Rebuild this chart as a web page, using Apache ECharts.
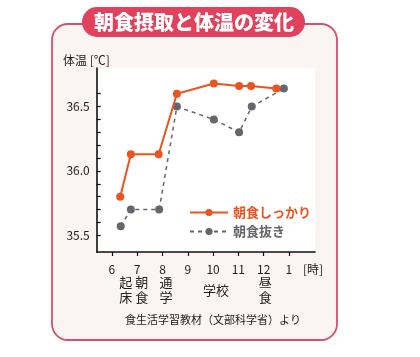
<!DOCTYPE html>
<html>
<head>
<meta charset="utf-8">
<script src="https://cdn.jsdelivr.net/npm/echarts@6/dist/echarts.min.js"></script>
<style>
html,body{margin:0;padding:0;background:#fff;}
#chart{width:420px;height:357px;}
</style>
</head>
<body>
<div id="chart"></div>
<script>
// ---- data ----
var titleText = '朝食摂取と体温の変化';
var yAxisName = '体温 [℃]';
var sourceText = '食生活学習教材（文部科学省）より';
var seriesNames = ['朝食しっかり', '朝食抜き'];
var breakfastX = [6.33, 6.75, 7.85, 8.57, 10.03, 11.03, 11.5, 12.5];
var breakfastY = [35.80, 36.13, 36.13, 36.60, 36.68, 36.66, 36.66, 36.64];
var skipX = [6.35, 6.75, 7.87, 8.57, 10.03, 11.03, 11.53, 12.8];
var skipY = [35.57, 35.70, 35.70, 36.50, 36.40, 36.30, 36.50, 36.64];
var hourTicks = [6, 7, 8, 9, 10, 11, 12, 13];
var hourUnitPos = 13.95;
var hourUnitLabel = '[時]';
var eventPos = [6.55, 7.18, 8.14, 10.12, 12.06];
var eventLabels = ['起\n床', '朝\n食', '通\n学', '学校', '昼\n食'];
var yLabelValues = [35.5, 36.0, 36.5];
var yTickValues = [35.5, 35.6, 35.7, 35.8, 35.9, 36.0, 36.1, 36.2, 36.3, 36.4, 36.5, 36.6];

var FONT = '"Noto Sans CJK JP", "Noto Sans", sans-serif';
var ORANGE = '#ea5420';
var GRAY = '#66666c';

function pairs(xs, ys){ return xs.map(function(x,i){ return [x, ys[i]]; }); }

var chart = echarts.init(document.getElementById('chart'));
var option = {
  backgroundColor: '#ffffff',
  animation: false,
  textStyle: { fontFamily: FONT },
  graphic: [
    { type: 'rect', z: -10, shape: { x: 52, y: 24, width: 285, height: 316, r: 16 },
      style: { fill: '#faf4f3', stroke: '#d5506a', lineWidth: 1.8 } },
    { type: 'rect', z: 10, shape: { x: 82, y: 7, width: 223, height: 30, r: 15 },
      style: { fill: '#e2415d' } },
    { type: 'text', z: 11, x: 194, y: 22,
      style: { text: titleText, fill: '#ffffff', font: '900 20px ' + FONT, textAlign: 'center', textVerticalAlign: 'middle' } },
    { type: 'text', z: 11, x: 63, y: 60,
      style: { text: yAxisName, fill: '#222', font: '12px ' + FONT, textAlign: 'left', textVerticalAlign: 'middle' } },
    { type: 'text', z: 11, x: 213, y: 320,
      style: { text: sourceText, fill: '#222', font: '11px ' + FONT, textAlign: 'center', textVerticalAlign: 'middle' } }
  ],
  legend: {
    orient: 'vertical',
    left: 184,
    top: 201,
    itemWidth: 38,
    itemHeight: 9,
    itemGap: 6,
    data: [
      { name: seriesNames[0], textStyle: { color: ORANGE, fontWeight: 'bold', fontSize: 13 } },
      { name: seriesNames[1], textStyle: { color: GRAY, fontWeight: 'bold', fontSize: 13 } }
    ],
    textStyle: { fontFamily: FONT, fontSize: 13 }
  },
  grid: {
    left: 96.7, top: 68, right: 105, bottom: 105,
    show: true, backgroundColor: '#ffffff', borderWidth: 0
  },
  xAxis: [
    {
      type: 'value', min: 5.4, max: 14.03,
      splitLine: { show: false },
      axisLine: { lineStyle: { color: '#111', width: 1.6 } },
      axisTick: { show: true, length: 4, customValues: hourTicks, lineStyle: { color: '#111', width: 1.2 } },
      axisLabel: {
        customValues: hourTicks.concat([hourUnitPos]),
        formatter: function(v){ if (Math.abs(v - hourUnitPos) < 1e-6) return hourUnitLabel; return String(v > 12 ? v - 12 : v); },
        color: '#222', fontSize: 12, margin: 11, fontFamily: FONT
      }
    },
    {
      type: 'value', min: 5.4, max: 14.03, position: 'bottom',
      splitLine: { show: false },
      axisLine: { show: false },
      axisTick: { show: false },
      axisLabel: {
        customValues: eventPos,
        formatter: function(v){ var i = eventPos.indexOf(v); return i >= 0 ? eventLabels[i] : ''; },
        color: '#222', fontSize: 13, lineHeight: 15, margin: 38, verticalAlign: 'middle', fontFamily: FONT
      }
    }
  ],
  yAxis: {
    type: 'value', min: 35.37, max: 36.8,
    splitLine: { show: false },
    axisLine: { show: true, lineStyle: { color: '#111', width: 1.6 } },
    axisTick: { show: true, inside: true, length: 4, customValues: yTickValues, lineStyle: { color: '#111', width: 1.2 } },
    axisLabel: {
      customValues: yLabelValues,
      formatter: function(v){ return v.toFixed(1); },
      color: '#222', fontSize: 12, margin: 7, fontFamily: FONT
    }
  },
  series: [
    {
      name: seriesNames[0], type: 'line', xAxisIndex: 0,
      data: pairs(breakfastX, breakfastY),
      symbol: 'circle', symbolSize: 8,
      itemStyle: { color: ORANGE },
      lineStyle: { color: ORANGE, width: 2 },
      z: 3
    },
    {
      name: seriesNames[1], type: 'line', xAxisIndex: 0,
      data: pairs(skipX, skipY),
      symbol: 'circle', symbolSize: 8,
      itemStyle: { color: GRAY },
      lineStyle: { color: GRAY, width: 1.5, type: [4, 4] },
      z: 2
    }
  ]
};
chart.setOption(option);
</script>
</body>
</html>
